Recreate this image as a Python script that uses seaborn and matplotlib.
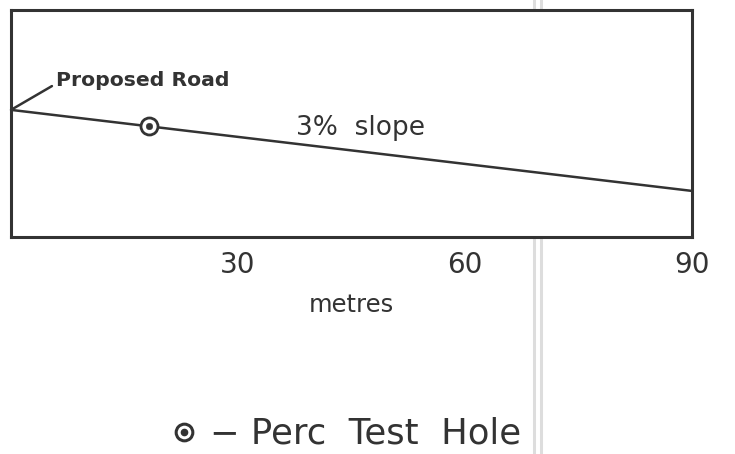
import matplotlib
matplotlib.use("Agg")
import matplotlib.pyplot as plt
from matplotlib.lines import Line2D
import seaborn as sns
import pandas as pd

# Data
road_x = [0, 90]            # metres along
road_y = [3.78, 1.37]       # relative elevation (3% slope, vertically exaggerated)
hole_x = [18.2]
hole_y = [3.29]
tick_values = [30, 60, 90]
tick_labels = ["30", "60", "90"]

sns.set_theme(style="white")
plt.rcParams['font.family'] = ['DejaVu Sans']
ink = "#333333"

fig = plt.figure(figsize=(7.35, 4.54), dpi=100)
ax = fig.add_axes([11/735, 1-237/454, (692-11)/735, (237-10)/454])

road = pd.DataFrame({"x": road_x, "y": road_y})
sns.lineplot(data=road, x="x", y="y", ax=ax, color=ink, lw=1.8)
hole = pd.DataFrame({"x": hole_x, "y": hole_y})
sns.scatterplot(data=hole, x="x", y="y", ax=ax, s=150, marker="o",
                facecolor="white", edgecolor=ink, linewidth=2.0, zorder=3)
sns.scatterplot(data=hole, x="x", y="y", ax=ax, s=22, marker="o",
                color=ink, edgecolor=ink, zorder=4)

ax.set_xlim(0, 90)
ax.set_ylim(0, 6.75)
ax.set_xticks(tick_values)
ax.set_xticklabels(tick_labels, fontsize=20, color=ink)
ax.set_yticks([])
ax.tick_params(axis="x", length=6, width=1.5, color=ink, direction="out", pad=4)
ax.set_xlabel("metres", fontsize=17.5, color=ink, labelpad=10)
ax.set_ylabel("")
for s in ax.spines.values():
    s.set_color(ink)
    s.set_linewidth(2.2)
    s.set_visible(True)

ax.text(46.2, 3.25, "3%  slope", fontsize=19, color=ink, ha="center", va="center")
ax.annotate("Proposed Road", xy=(0, road_y[0]), xytext=(6.0, 4.65),
            fontsize=14.7, fontweight="bold", color=ink, ha="left", va="center",
            arrowprops=dict(arrowstyle="-", color=ink, lw=1.8, shrinkA=1, shrinkB=0,
                            relpos=(0.0, 0.35)))

# scan artefact double grey line
for xp in (534, 541):
    fig.add_artist(Line2D([xp/735, xp/735], [0, 1], color="#dddddd", lw=2.2,
                          transform=fig.transFigure, zorder=0))

# legend at bottom
fig.add_artist(Line2D([184/735], [1-432/454], marker="o", markersize=12,
                      markerfacecolor="white", markeredgecolor=ink, markeredgewidth=2.2,
                      transform=fig.transFigure))
fig.add_artist(Line2D([184/735], [1-432/454], marker="o", markersize=4.5,
                      markerfacecolor=ink, markeredgecolor=ink,
                      transform=fig.transFigure))
fig.text(210/735, 1-433/454, "\u2212 Perc  Test  Hole", fontsize=25.5, color=ink,
         ha="left", va="center")

fig.savefig("out.png", dpi=100, facecolor="white")
